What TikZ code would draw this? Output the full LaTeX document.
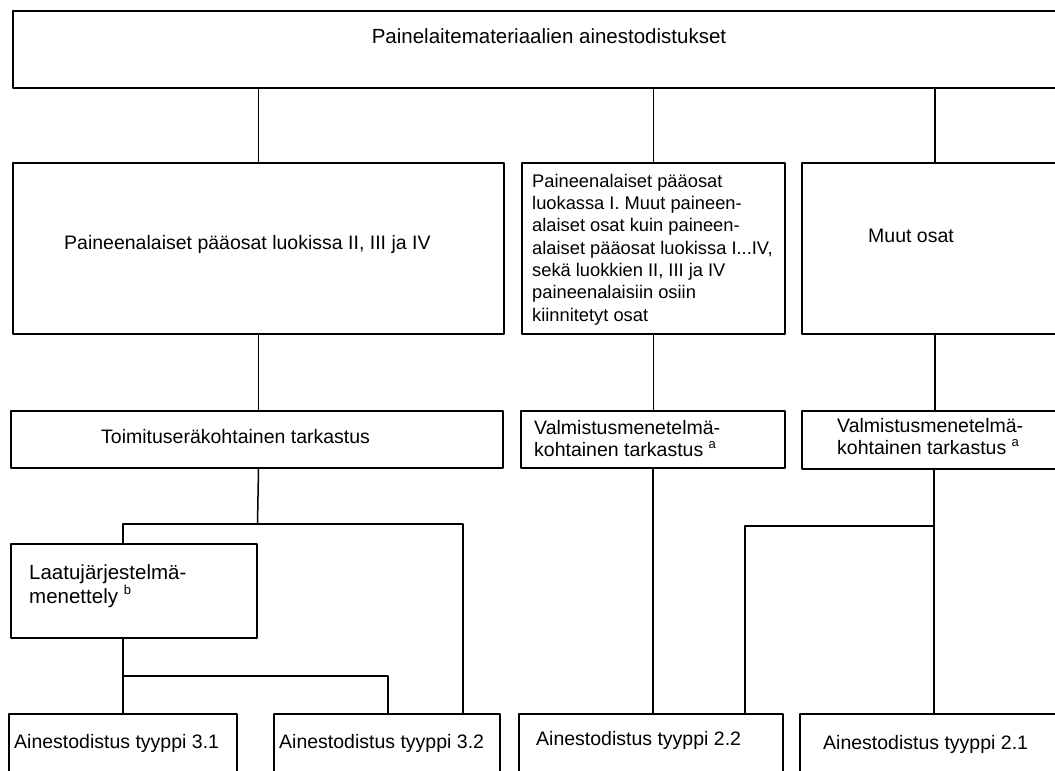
\documentclass[tikz,border=0pt]{standalone}
\usepackage{fontspec}
\setmainfont{Liberation Sans}
\newcommand{\fsz}[2]{\fontsize{#1}{#2}\selectfont}
\newcommand{\supnote}[1]{\raisebox{0.42em}{\fsz{13pt}{13pt}#1}}
\begin{document}
\begin{tikzpicture}[x=1pt,y=-1pt,line join=round,line cap=round]
            \tikzset{box/.style={draw,line width=2pt,inner sep=0pt,anchor=north west},
                txt/.style={inner sep=0pt,anchor=base west,font=\fsz{19.5pt}{22pt}},
                link/.style={line width=1.5pt}}
            \useasboundingbox (0,0) rectangle (1055,771);
            \clip (0,0) rectangle (1055,771);
            % boxes
            \node[box,minimum width=1070pt,minimum height=77pt] (top) at (12,10) {};
            \node[box,minimum width=491pt,minimum height=171pt] (A) at (12,162) {};
            \node[box,minimum width=263pt,minimum height=171pt] (B) at (521,162) {};
            \node[box,minimum width=266pt,minimum height=171pt] (C) at (801,162) {};
            \node[box,minimum width=492pt,minimum height=57pt] (D) at (10,410) {};
            \node[box,minimum width=264pt,minimum height=57pt] (E) at (520,410) {};
            \node[box,minimum width=264pt,minimum height=58pt] (F) at (801,410) {};
            \node[box,minimum width=246pt,minimum height=94pt] (G) at (10,543) {};
            \foreach \n/\x/\w in {H/8/228,I/273/226,J/518/264,K/799/268}
            \node[box,minimum width=\w pt,minimum height=90pt] (\n) at (\x,713) {};
            % texts (multi-line: base = last line)
            \node[txt,anchor=base,font=\fsz{20.5pt}{24pt}] (tTop) at (549,43) {Painelaitemateriaalien ainestodistukset};
            \node[txt] (tA) at (64,249) {Paineenalaiset pääosat luokissa II, III ja IV};
            \node[txt,align=left,font=\fsz{18.3pt}{22.3pt}] (tB) at (532,321)
                {Paineenalaiset pääosat\\luokassa I. Muut paineen-\\alaiset osat kuin paineen-\\alaiset pääosat luokissa I...IV,\\sekä luokkien II, III ja IV\\paineenalaisiin osiin\\kiinnitetyt osat};
            \node[txt] (tC) at (868,242) {Muut osat};
            \node[txt] (tD) at (101,443) {Toimituseräkohtainen tarkastus};
            \node[txt,align=left,font=\fsz{19.5pt}{22.7pt}] (tE) at (534,456.7) {Valmistusmenetelmä-\\kohtainen tarkastus \supnote{a}};
            \node[txt,align=left,font=\fsz{19.5pt}{22.7pt}] (tF) at (837,454.7) {Valmistusmenetelmä-\\kohtainen tarkastus \supnote{a}};
            \node[txt,align=left,font=\fsz{20.5pt}{24pt}] (tG) at (29,603) {Laatujärjestelmä-\\menettely \supnote{b}};
            \foreach \n/\x/\y/\t in {H/14/748/3.1,I/279/748/3.2,J/536/745/2.2,K/823/749/2.1}
            \node[txt] (t\n) at (\x,\y) {Ainestodistus tyyppi \t};
            % links
            \coordinate (bD) at (257.5,524);
            \coordinate (bG) at (123,676);
            \coordinate (bF) at (934,526);
            \draw[link] (top.south -| A.north) -- (A.north);
            \draw[link] (top.south -| B.north) -- (B.north);
            \draw[link] (top.south -| C.north) -- (C.north);
            \draw[link] (A.south) -- (A.south |- D.north);
            \draw[link] (B.south) -- (B.south |- E.north);
            \draw[link] (C.south) -- (C.south |- F.north);
            \draw[link] (A.south |- D.south) -- (bD);
            \draw[link] (G.north -| bG) |- (bD) -| ([xshift=190pt]I.north west);
            \draw[link] (G.south -| bG) -- (H.north -| bG);
            \draw[link] (bG) -| ([xshift=115pt]I.north west);
            \draw[link] (E.south) -- (E.south |- J.north);
            \draw[link] (F.south) -- (F.south |- K.north);
            \draw[link] (bF) -| ([xshift=227pt]J.north west);
\end{tikzpicture}
\end{document}
